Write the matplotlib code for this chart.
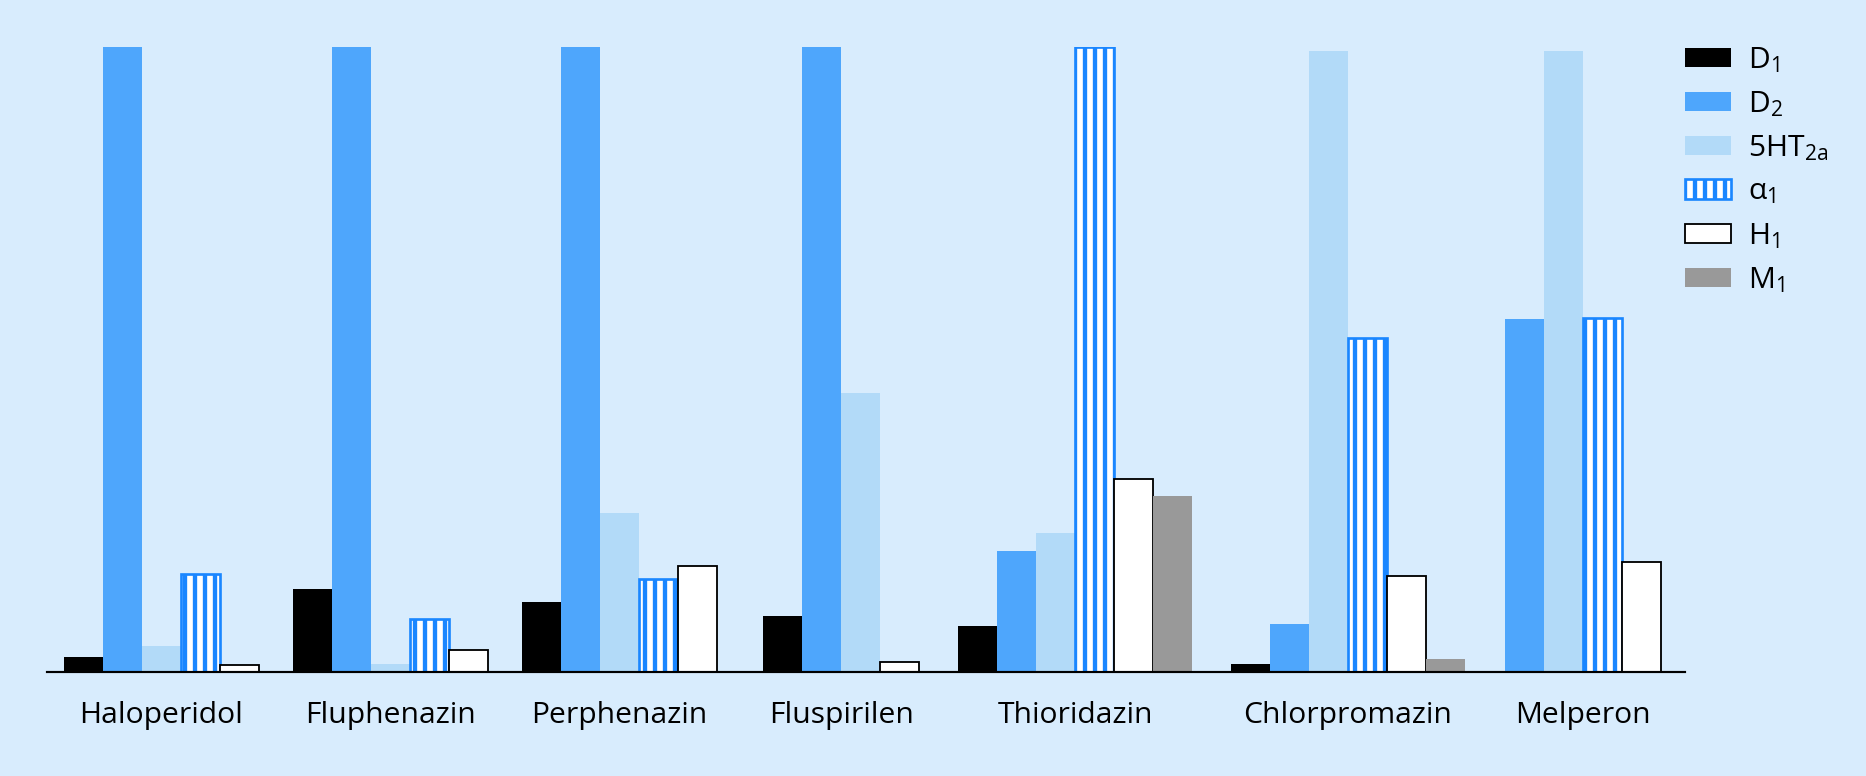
import matplotlib
matplotlib.use("Agg")
import matplotlib.pyplot as plt

# ---- data (relative affinity, % of strongest receptor) ----
drugs = ["Haloperidol", "Fluphenazin", "Perphenazin", "Fluspirilen",
         "Thioridazin", "Chlorpromazin", "Melperon"]
receptors = ["D1", "D2", "5HT2a", "alpha1", "H1", "M1"]
receptor_labels = ["D$_\\mathregular{1}$", "D$_\\mathregular{2}$",
                   "5HT$_\\mathregular{2a}$", "α$_\\mathregular{1}$",
                   "H$_\\mathregular{1}$", "M$_\\mathregular{1}$"]
D1     = [2.3, 13.2, 11.2, 8.9, 7.3, 1.3, None]
D2     = [100, 100, 100, 100, 19.3, 7.7, 56.5]
HT2a   = [4.1, 1.3, 25.4, 44.6, 22.2, 99.4, 99.4]
alpha1 = [15.7, 8.5, 14.8, None, 100, 53.4, 56.7]
H1     = [1.0, 3.5, 17.0, 1.6, 30.8, 15.3, 17.5]
M1     = [None, None, None, None, 28.2, 2.1, None]
series = [D1, D2, HT2a, alpha1, H1, M1]

# ---- layout / styles ----
group_gaps = [0.88, 0.88, 1.19, 1.0, 1.0, 1.04]   # gap after each group (bar widths)
BG = "#d8ecfd"
BLUE = "#4ea6fc"
LIGHT = "#b2daf8"
STRIPE = "#1a86ff"
GRAY = "#999999"
styles = [
    dict(color="black", edgecolor="none", linewidth=0),
    dict(color=BLUE, edgecolor="none", linewidth=0),
    dict(color=LIGHT, edgecolor="none", linewidth=0),
    dict(facecolor="white", edgecolor=STRIPE, hatch="||", linewidth=1.6),
    dict(facecolor="white", edgecolor="black", linewidth=1.1),
    dict(color=GRAY, edgecolor="none", linewidth=0),
]

plt.rcParams["font.family"] = ["Open Sans", "DejaVu Sans"]
plt.rcParams["mathtext.fontset"] = "custom"
plt.rcParams["mathtext.rm"] = "Open Sans"
plt.rcParams["mathtext.it"] = "Open Sans"
plt.rcParams["hatch.linewidth"] = 2.6

DPI = 120
fig = plt.figure(figsize=(1866 / DPI, 776 / DPI), dpi=DPI, facecolor=BG)
ax = fig.add_axes([0.0251, 0.1344, 0.903 - 0.0251, 0.939 - 0.1344])
ax.set_facecolor("none")

pos = 0.0
centers = []
handles = [None] * len(series)
for gi, drug in enumerate(drugs):
    start = pos
    for si, s in enumerate(series):
        v = s[gi]
        if v is None:
            continue
        b = ax.bar(pos, v, width=1.0, align="edge", **styles[si])
        handles[si] = b
        pos += 1
    centers.append((start + pos) / 2)
    if gi < len(group_gaps):
        pos += group_gaps[gi]

ax.set_xlim(-0.434, pos + 0.61)
ax.set_ylim(0, 100)
for sp in ["top", "right", "left"]:
    ax.spines[sp].set_visible(False)
ax.spines["bottom"].set_linewidth(1.3)
ax.spines["bottom"].set_zorder(5)
ax.set_yticks([])
ax.set_xticks(centers)
ax.set_xticklabels(drugs, fontsize=18)
ax.tick_params(axis="x", length=0, pad=17.5)

leg = fig.legend(handles, receptor_labels, loc="upper left",
                 bbox_to_anchor=(1685 / 1866, 1 - 45 / 776),
                 frameon=False, fontsize=18, borderpad=0, borderaxespad=0,
                 handlelength=1.53, handleheight=0.6, handletextpad=0.57,
                 labelspacing=0.48)

fig.savefig("out.png", dpi=DPI, facecolor=BG)
